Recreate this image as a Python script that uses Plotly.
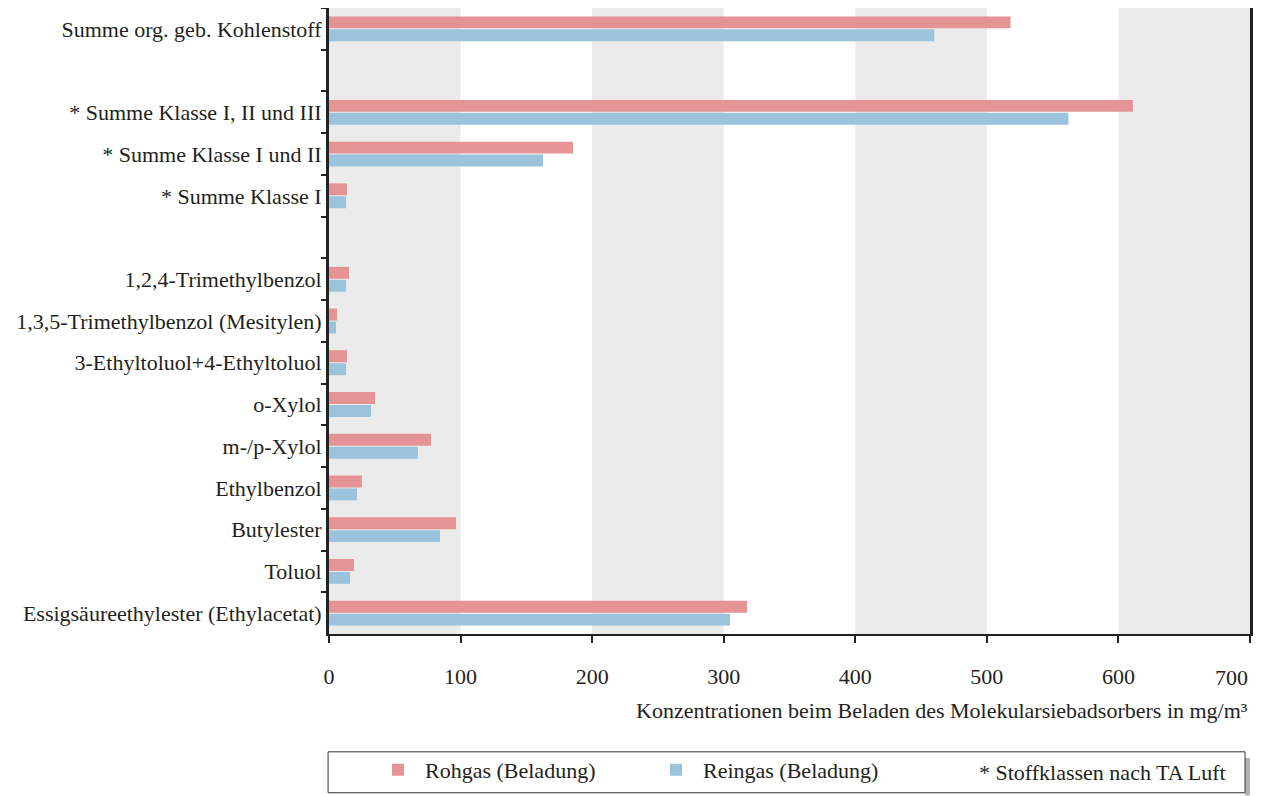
import plotly.graph_objects as go

categories = [
    "Summe org. geb. Kohlenstoff",
    " ",
    "* Summe Klasse I, II und III",
    "* Summe Klasse I und II",
    "* Summe Klasse I",
    "  ",
    "1,2,4-Trimethylbenzol",
    "1,3,5-Trimethylbenzol (Mesitylen)",
    "3-Ethyltoluol+4-Ethyltoluol",
    "o-Xylol",
    "m-/p-Xylol",
    "Ethylbenzol",
    "Butylester",
    "Toluol",
    "Essigsäureethylester (Ethylacetat)",
]
rohgas = [518, None, 611, 185.5, 13.7, None, 15.2, 6.1, 13.7, 35, 77.5, 25, 96.5, 19, 317.7]
reingas = [460, None, 562, 162.6, 13, None, 13, 5.3, 13, 32, 67.6, 21.3, 84.4, 16, 304.8]
x_ticks = [0, 100, 200, 300, 400, 500, 600, 700]
# last tick label is drawn right-aligned at the axis end (as in the reference)
x_ticktext = [str(v) for v in x_ticks[:-1]] + [""]

FONT = "'Liberation Serif', 'Times New Roman', serif"
FS = 22
RED = "#e59394"
BLUE = "#9bc3dc"
TXT = "#231f20"

fig = go.Figure()
fig.add_trace(go.Bar(y=categories, x=rohgas, orientation="h", name="Rohgas (Beladung)",
                     marker=dict(color=RED, line=dict(width=0))))
fig.add_trace(go.Bar(y=categories, x=reingas, orientation="h", name="Reingas (Beladung)",
                     marker=dict(color=BLUE, line=dict(width=0))))

# alternating background bands
shapes = []
for i in range(0, len(x_ticks) - 1, 2):
    shapes.append(dict(type="rect", xref="x", yref="paper", x0=x_ticks[i], x1=x_ticks[i + 1],
                       y0=0, y1=1, fillcolor="#ebebeb", line=dict(width=0), layer="below"))
# legend box shadow and box
shapes.append(dict(type="rect", xref="paper", yref="paper", x0=0.9946, x1=1.0, y0=-0.258, y1=-0.198,
                   fillcolor="#b3b3b3", line=dict(width=0)))
shapes.append(dict(type="rect", xref="paper", yref="paper", x0=-0.001, x1=0.9946, y0=-0.2536, y1=-0.1882,
                   fillcolor="white", line=dict(color="#333333", width=1)))

fig.update_layout(
    width=1256, height=788,
    margin=dict(l=321, r=14, t=0, b=162),
    paper_bgcolor="white", plot_bgcolor="white",
    barmode="group", bargap=0.38, bargroupgap=0.077,
    font=dict(family=FONT, size=FS, color=TXT),
    shapes=shapes,
    showlegend=True,
    legend=dict(orientation="h", x=0.0456, y=-0.217, xanchor="left", yanchor="middle",
                bgcolor="rgba(0,0,0,0)", borderwidth=0, entrywidth=219, entrywidthmode="pixels",
                itemwidth=44,
                font=dict(family=FONT, size=FS, color=TXT), traceorder="normal"),
    xaxis=dict(range=[0, 700], tickvals=x_ticks, ticktext=x_ticktext, ticks="outside", ticklen=7,
               tickwidth=2, tickcolor="#222", showline=True, linecolor="#222", linewidth=2,
               mirror=True, showgrid=False, zeroline=False, ticklabelstandoff=15,
               automargin=False,
               tickfont=dict(family=FONT, size=FS, color=TXT)),
    yaxis=dict(categoryorder="array", categoryarray=categories, autorange="reversed",
               ticks="outside", tickson="boundaries", ticklen=5, tickwidth=2, tickcolor="#222",
               showline=True, linecolor="#222", linewidth=3, mirror=True, showgrid=False,
               zeroline=False, automargin=False, tickfont=dict(family=FONT, size=FS, color=TXT)),
    annotations=[
        dict(text=str(x_ticks[-1]), xref="x", yref="paper", x=x_ticks[-1], y=-0.0687,
             xanchor="right", yanchor="middle", showarrow=False,
             font=dict(family=FONT, size=FS, color=TXT)),
        dict(text="Konzentrationen beim Beladen des Molekularsiebadsorbers in mg/m³",
             xref="paper", yref="paper", x=1.0, y=-0.1226, xanchor="right", yanchor="middle",
             showarrow=False, font=dict(family=FONT, size=FS, color=TXT)),
        dict(text="* Stoffklassen nach TA Luft", xref="paper", yref="paper", x=0.976, y=-0.2217,
             xanchor="right", yanchor="middle", showarrow=False,
             font=dict(family=FONT, size=FS, color=TXT)),
    ],
)

fig.write_html("out.html")
